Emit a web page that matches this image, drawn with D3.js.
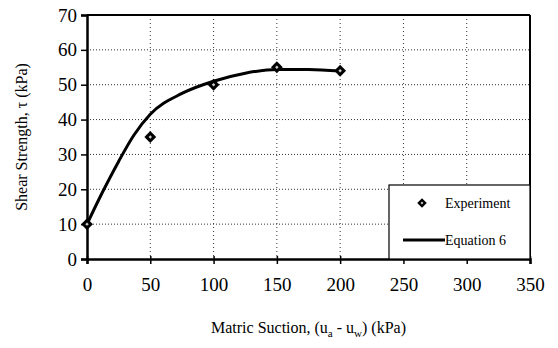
<!DOCTYPE html>
<html>
<head>
<meta charset="utf-8">
<script src="https://cdn.jsdelivr.net/npm/d3@7"></script>
</head>
<body style="margin:0">
<script>
// Data
let expSuction = [0, 50, 100, 150, 200];
let expStrength = [10, 35, 50, 55, 54];

let eqSuction = [0, 12, 25, 37, 50, 75, 100, 125, 150, 175, 200];
let eqStrength = [10, 19, 28, 35.5, 41.5, 47.5, 51, 53.3, 54.4, 54.4, 53.9];

let xTicks = [0, 50, 100, 150, 200, 250, 300, 350];
let yTicks = [0, 10, 20, 30, 40, 50, 60, 70];

let serif = '"Liberation Serif"';

let width = 558,
    height = 348,
    margin = {top: 15, right: 28, bottom: 89, left: 87};

let innerW = width - margin.left - margin.right,
    innerH = height - margin.top - margin.bottom;

let svg = d3.select("body").append("svg")
    .attr("width", width)
    .attr("height", height);

let g = svg.append("g")
    .attr("transform", `translate(${margin.left},${margin.top})`);

let x = d3.scaleLinear().domain([0, 350]).range([0, innerW]);
let y = d3.scaleLinear().domain([0, 70]).range([innerH, 0]);

// dotted gridlines
g.append("g")
    .selectAll("line")
    .data(yTicks.slice(1, -1))
    .join("line")
    .attr("x1", 0).attr("x2", innerW)
    .attr("y1", d => y(d)).attr("y2", d => y(d))
    .attr("stroke", "#333")
    .attr("stroke-width", 1)
    .attr("stroke-dasharray", "1,2");

g.append("g")
    .selectAll("line")
    .data(xTicks.slice(1, -1))
    .join("line")
    .attr("x1", d => x(d)).attr("x2", d => x(d))
    .attr("y1", 0).attr("y2", innerH)
    .attr("stroke", "#333")
    .attr("stroke-width", 1)
    .attr("stroke-dasharray", "1,3");

// top and right border
g.append("line")
    .attr("x1", 0).attr("x2", innerW).attr("y1", 0).attr("y2", 0)
    .attr("stroke", "#000").attr("stroke-width", 2);
g.append("line")
    .attr("x1", innerW).attr("x2", innerW).attr("y1", 0).attr("y2", innerH)
    .attr("stroke", "#000").attr("stroke-width", 2);

// axes
let xAxis = d3.axisBottom(x).tickValues(xTicks).tickSize(5).tickPadding(14);
let yAxis = d3.axisLeft(y).tickValues(yTicks).tickSize(6).tickPadding(4);

g.append("g")
    .attr("transform", `translate(0,${innerH})`)
    .call(xAxis)
    .attr("font-family", null)
    .attr("font-size", null)
    .call(a => a.select(".domain").attr("stroke-width", 2.5))
    .call(a => a.selectAll(".tick line").attr("y1", -3).attr("stroke-width", 1.5))
    .call(a => a.selectAll("text")
        .attr("font-size", 19)
        .style("font-family", serif)
        .attr("fill", "#000"));

g.append("g")
    .call(yAxis)
    .attr("font-family", null)
    .attr("font-size", null)
    .call(a => a.select(".domain").attr("stroke-width", 2.5))
    .call(a => a.selectAll(".tick line").attr("stroke-width", 1.5))
    .call(a => a.selectAll("text")
        .attr("font-size", 19)
        .style("font-family", serif)
        .attr("fill", "#000"));

// Equation 6 curve
let eqData = eqSuction.map((s, i) => ({s: s, t: eqStrength[i]}));
let line = d3.line()
    .x(d => x(d.s))
    .y(d => y(d.t))
    .curve(d3.curveMonotoneX);

g.append("path")
    .datum(eqData)
    .attr("d", line)
    .attr("fill", "none")
    .attr("stroke", "#000")
    .attr("stroke-width", 3);

// experiment markers (square turned 45 degrees)
let expData = expSuction.map((s, i) => ({s: s, t: expStrength[i]}));
let outer = d3.symbol().type(d3.symbolSquare).size(70);
let inner = d3.symbol().type(d3.symbolSquare).size(6);

let marks = g.append("g")
    .selectAll("g")
    .data(expData)
    .join("g")
    .attr("transform", d => `translate(${x(d.s)},${y(d.t)}) rotate(45)`);
marks.append("path").attr("d", outer).attr("fill", "#000");
marks.append("path").attr("d", inner).attr("fill", "#ccc");

// legend
let legend = g.append("g")
    .attr("transform", `translate(${innerW - 141},${innerH - 74})`);
legend.append("rect")
    .attr("width", 141).attr("height", 74)
    .attr("fill", "#fff")
    .attr("stroke", "#000")
    .attr("stroke-width", 1.2);
let lm = legend.append("g").attr("transform", "translate(33,18) rotate(45)");
lm.append("path").attr("d", d3.symbol().type(d3.symbolSquare).size(45)).attr("fill", "#000");
lm.append("path").attr("d", d3.symbol().type(d3.symbolSquare).size(4)).attr("fill", "#ccc");
legend.append("text")
    .attr("x", 56).attr("y", 23)
    .attr("font-size", 14)
    .style("font-family", serif)
    .text("Experiment");
legend.append("line")
    .attr("x1", 14).attr("x2", 56).attr("y1", 55).attr("y2", 55)
    .attr("stroke", "#000").attr("stroke-width", 3);
legend.append("text")
    .attr("x", 56).attr("y", 60)
    .attr("font-size", 14)
    .style("font-family", serif)
    .text("Equation 6");

// axis titles
let xt = svg.append("text")
    .attr("x", margin.left + innerW / 2)
    .attr("y", 333)
    .attr("text-anchor", "middle")
    .attr("font-size", 16)
    .style("font-family", serif);
xt.append("tspan").text("Matric Suction, (u");
xt.append("tspan").attr("font-size", 11).attr("dy", 4).text("a");
xt.append("tspan").attr("dy", -4).text(" - u");
xt.append("tspan").attr("font-size", 11).attr("dy", 4).text("w");
xt.append("tspan").attr("dy", -4).text(") (kPa)");

svg.append("text")
    .attr("transform", `translate(27,${margin.top + innerH / 2}) rotate(-90)`)
    .attr("text-anchor", "middle")
    .attr("font-size", 16)
    .style("font-family", serif)
    .text("Shear Strength, τ (kPa)");
</script>
</body>
</html>
